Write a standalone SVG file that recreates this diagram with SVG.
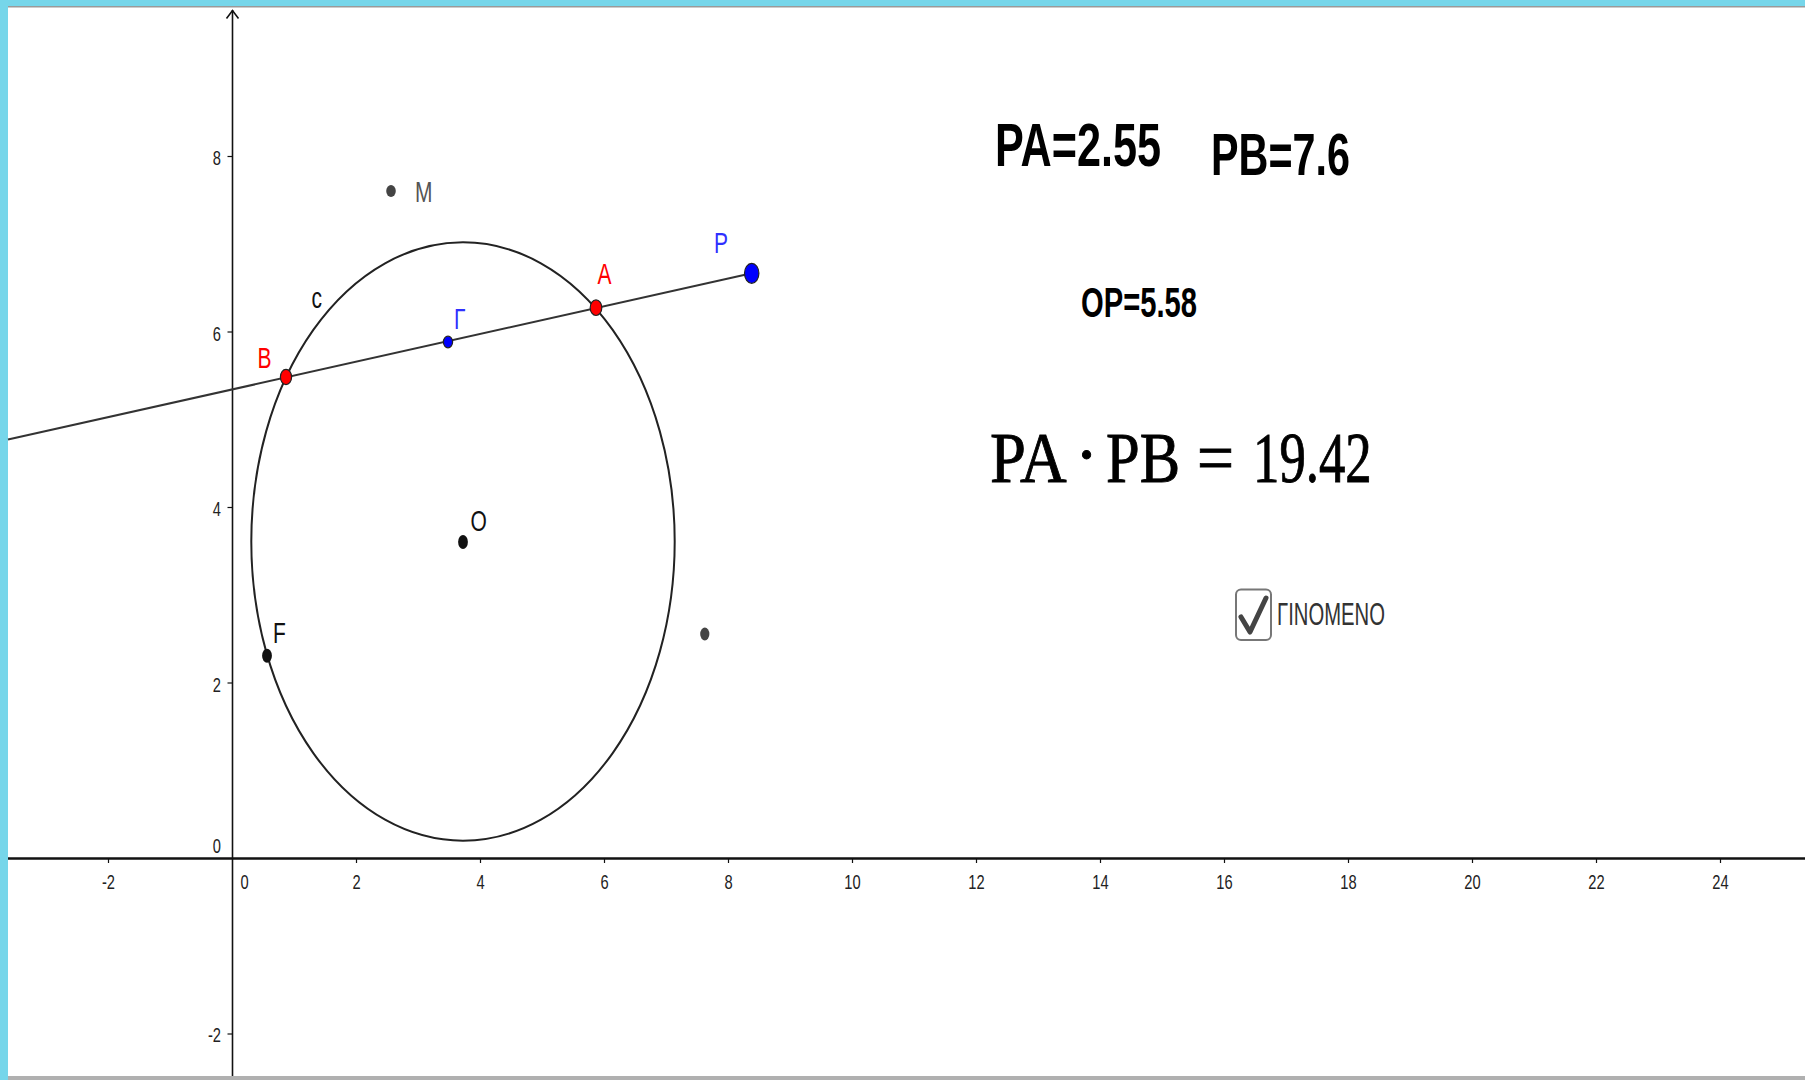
<svg xmlns="http://www.w3.org/2000/svg" width="1805" height="1080" viewBox="0 0 1805 1080">
<style>
.tick{font-family:"Liberation Sans",Arial,sans-serif;font-size:21px;fill:#222}
.lbl{font-family:"Liberation Sans",Arial,sans-serif;font-size:30px}
.big{font-family:"Liberation Sans",Arial,sans-serif;font-weight:bold;fill:#000}
.tex{font-family:"Liberation Serif","Times New Roman",serif;font-size:71px;fill:#000;stroke:#000;stroke-width:0.9}
.pt{stroke:#222;stroke-width:1.2}
.ax{stroke:#111;fill:none}
</style>
<rect x="0" y="0" width="1805" height="1080" fill="#ffffff"/>
<rect x="0" y="0" width="1805" height="6" fill="#76D6EA"/>
<rect x="0" y="6" width="1805" height="1.5" fill="#9a9a9a"/>
<rect x="0" y="0" width="8" height="1080" fill="#76D6EA"/>
<rect x="8" y="1076" width="1797" height="4" fill="#b0b0b0"/>

<g id="axes">
<line class="ax" x1="8" y1="858.5" x2="1805" y2="858.5" stroke-width="2.5"/>
<line class="ax" x1="232.5" y1="10" x2="232.5" y2="1076" stroke-width="1.6"/>
<polyline class="ax" points="226.5,18.5 232.5,10.5 238.5,18.5" stroke-width="1.6"/>
<g stroke="#111" stroke-width="1.2">
<line x1="108.5" y1="858.5" x2="108.5" y2="863"/>
<line x1="356.5" y1="858.5" x2="356.5" y2="863"/>
<line x1="480.5" y1="858.5" x2="480.5" y2="863"/>
<line x1="604.5" y1="858.5" x2="604.5" y2="863"/>
<line x1="728.5" y1="858.5" x2="728.5" y2="863"/>
<line x1="852.5" y1="858.5" x2="852.5" y2="863"/>
<line x1="976.5" y1="858.5" x2="976.5" y2="863"/>
<line x1="1100.5" y1="858.5" x2="1100.5" y2="863"/>
<line x1="1224.5" y1="858.5" x2="1224.5" y2="863"/>
<line x1="1348.5" y1="858.5" x2="1348.5" y2="863"/>
<line x1="1472.5" y1="858.5" x2="1472.5" y2="863"/>
<line x1="1596.5" y1="858.5" x2="1596.5" y2="863"/>
<line x1="1720.5" y1="858.5" x2="1720.5" y2="863"/>
<line x1="227.5" y1="156.5" x2="232.5" y2="156.5"/>
<line x1="227.5" y1="332" x2="232.5" y2="332"/>
<line x1="227.5" y1="507.5" x2="232.5" y2="507.5"/>
<line x1="227.5" y1="683" x2="232.5" y2="683"/>
<line x1="227.5" y1="1034" x2="232.5" y2="1034"/>
</g>
<g class="tick" text-anchor="middle">
<text transform="translate(108.5,888.5) scale(0.7,1)">-2</text>
<text transform="translate(244.5,888.5) scale(0.7,1)">0</text>
<text transform="translate(356.5,888.5) scale(0.7,1)">2</text>
<text transform="translate(480.5,888.5) scale(0.7,1)">4</text>
<text transform="translate(604.5,888.5) scale(0.7,1)">6</text>
<text transform="translate(728.5,888.5) scale(0.7,1)">8</text>
<text transform="translate(852.5,888.5) scale(0.7,1)">10</text>
<text transform="translate(976.5,888.5) scale(0.7,1)">12</text>
<text transform="translate(1100.5,888.5) scale(0.7,1)">14</text>
<text transform="translate(1224.5,888.5) scale(0.7,1)">16</text>
<text transform="translate(1348.5,888.5) scale(0.7,1)">18</text>
<text transform="translate(1472.5,888.5) scale(0.7,1)">20</text>
<text transform="translate(1596.5,888.5) scale(0.7,1)">22</text>
<text transform="translate(1720.5,888.5) scale(0.7,1)">24</text>
</g>
<g class="tick" text-anchor="end">
<text transform="translate(221,165) scale(0.7,1)">8</text>
<text transform="translate(221,340.5) scale(0.7,1)">6</text>
<text transform="translate(221,516) scale(0.7,1)">4</text>
<text transform="translate(221,691.5) scale(0.7,1)">2</text>
<text transform="translate(221,853) scale(0.7,1)">0</text>
<text transform="translate(221,1042) scale(0.7,1)">-2</text>
</g>
</g>

<g id="circle-c">
<ellipse cx="463" cy="541.5" rx="211.7" ry="299.2" fill="none" stroke="#222" stroke-width="2"/>
<text class="lbl" transform="translate(311.5,307.5) scale(0.7,1)" fill="#111">c</text>
</g>

<g id="connectors">
<line x1="8" y1="439.6" x2="751.7" y2="273.3" stroke="#333" stroke-width="2"/>
</g>

<g id="point-M">
<ellipse cx="391" cy="191" rx="4.8" ry="6" fill="#444"/>
<text class="lbl" transform="translate(415,201.5) scale(0.7,1)" fill="#555" font-size="27">M</text>
</g>
<g id="point-O">
<ellipse cx="463" cy="542" rx="4.9" ry="7" fill="#111"/>
<text class="lbl" transform="translate(470.5,530.5) scale(0.7,1)" fill="#111">O</text>
</g>
<g id="point-F">
<ellipse cx="267" cy="655.7" rx="4.9" ry="7" fill="#111"/>
<text class="lbl" transform="translate(273,642.5) scale(0.7,1)" fill="#111">F</text>
</g>
<g id="point-unnamed">
<ellipse cx="704.8" cy="634" rx="4.6" ry="6.4" fill="#444"/>
</g>
<g id="point-B">
<ellipse class="pt" cx="286" cy="377" rx="5.6" ry="7.6" fill="#ff0000"/>
<text class="lbl" transform="translate(257.5,367.5) scale(0.7,1)" fill="#ff0000">B</text>
</g>
<g id="point-Gamma">
<ellipse class="pt" cx="448" cy="342" rx="4.6" ry="5.8" fill="#0000ff"/>
<text class="lbl" transform="translate(454,329.3) scale(0.7,1)" fill="#3030ff">Γ</text>
</g>
<g id="point-A">
<ellipse class="pt" cx="596" cy="307.7" rx="5.8" ry="7.8" fill="#ff0000"/>
<text class="lbl" transform="translate(597.5,284.3) scale(0.7,1)" fill="#ff0000" font-size="32">A</text>
</g>
<g id="point-P">
<ellipse class="pt" cx="751.7" cy="273.3" rx="7.2" ry="10" fill="#0000ff"/>
<text class="lbl" transform="translate(714,252.7) scale(0.7,1)" fill="#3030ff" font-size="31">P</text>
</g>

<g id="text-PA">
<text class="big" x="995" y="166" font-size="61" textLength="166" lengthAdjust="spacingAndGlyphs">PA=2.55</text>
</g>
<g id="text-PB">
<text class="big" x="1211" y="175" font-size="60" textLength="139" lengthAdjust="spacingAndGlyphs">PB=7.6</text>
</g>
<g id="text-OP">
<text class="big" x="1081" y="316.7" font-size="42" textLength="116" lengthAdjust="spacingAndGlyphs">OP=5.58</text>
</g>
<g id="formula">
<text class="tex" x="990" y="482" textLength="76.7" lengthAdjust="spacingAndGlyphs">PA</text>
<text class="tex" x="1086.5" y="479" text-anchor="middle">·</text>
<text class="tex" x="1106" y="482" textLength="74" lengthAdjust="spacingAndGlyphs">PB</text>
<text class="tex" x="1197" y="482" textLength="37" lengthAdjust="spacingAndGlyphs">=</text>
<text class="tex" x="1253" y="482" textLength="118.7" lengthAdjust="spacingAndGlyphs">19.42</text>
</g>
<g id="checkbox">
<rect x="1236" y="589.5" width="35" height="50.5" rx="5" fill="#fff" stroke="#777" stroke-width="2"/>
<polyline points="1241,617 1250,632 1266,598" fill="none" stroke="#444" stroke-width="5" stroke-linecap="round" stroke-linejoin="round"/>
<text x="1277" y="625" font-family="Liberation Sans, Arial, sans-serif" font-size="31" fill="#333" textLength="108" lengthAdjust="spacingAndGlyphs">ΓΙΝΟΜΕΝΟ</text>
</g>
</svg>
